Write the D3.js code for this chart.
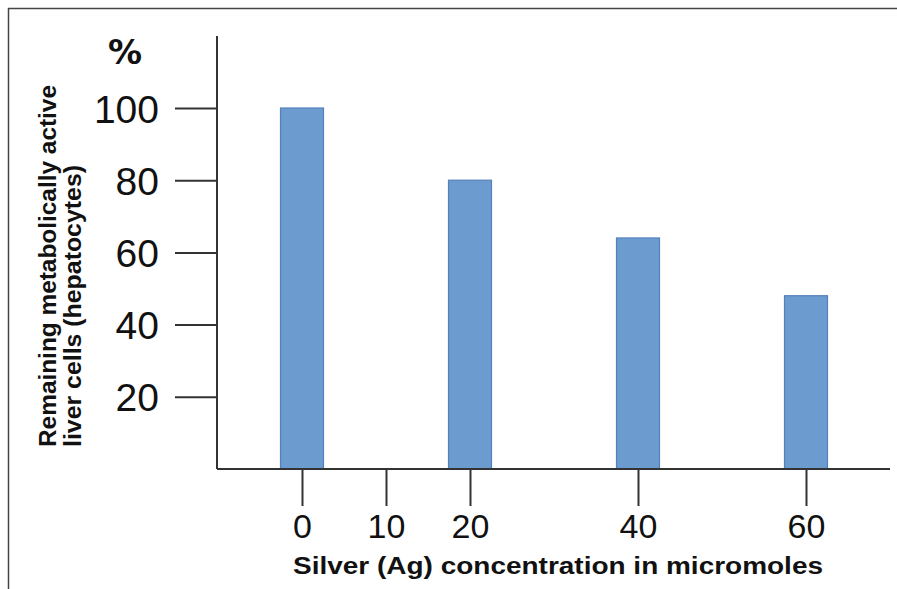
<!DOCTYPE html>
<html><head><meta charset="utf-8">
<script src="https://cdn.jsdelivr.net/npm/d3@7"></script>
<style>body{margin:0;background:#fff}svg{display:block}</style>
</head><body>
<script>
const concentrations = [0, 20, 40, 60];
const cellsPercent = [100, 80, 64, 48];
const xTicks = [0, 10, 20, 40, 60];
const yTicks = [20, 40, 60, 80, 100];
const xTitle = "Silver (Ag) concentration in micromoles";
const yTitle1 = "Remaining metabolically active";
const yTitle2 = "liver cells (hepatocytes)";
const yUnit = "%";

const W = 897, H = 589;
const svg = d3.select("body").append("svg").attr("width", W).attr("height", H);
svg.append("rect").attr("width", W).attr("height", H).attr("fill", "#fff");
// frame (top and left visible)
svg.append("path").attr("d", "M8.5,589 L8.5,8.5 L897,8.5").attr("fill","none").attr("stroke","#444").attr("stroke-width",1.5);

const x = d3.scaleLinear().domain([0, 60]).range([302, 806]);
const y = d3.scaleLinear().domain([0, 100]).range([469, 108]);
const axisColor = "#333";
const font = "'Liberation Sans', Arial, sans-serif";

// bars
svg.selectAll("rect.bar").data(concentrations).join("rect")
  .attr("class","bar")
  .attr("x", d => x(d) - 21.5)
  .attr("width", 43)
  .attr("y", (d,i) => y(cellsPercent[i]))
  .attr("height", (d,i) => y(0) - y(cellsPercent[i]))
  .attr("fill", "#6c9bd0")
  .attr("stroke", "#5580bb")
  .attr("stroke-width", 1.2);

// y axis
const yAxis = d3.axisLeft(y).tickValues(yTicks).tickSize(42).tickPadding(16).tickFormat(d3.format("d"));
const gy = svg.append("g").attr("transform","translate(217,0)").call(yAxis);
gy.select(".domain").remove();
gy.append("line").attr("x1",0).attr("x2",0).attr("y1",36).attr("y2",469).attr("stroke",axisColor).attr("stroke-width",2);
gy.selectAll(".tick line").attr("stroke",axisColor).attr("stroke-width",2);
gy.selectAll(".tick text").attr("fill","#111").style("font-family",font).style("font-size","39px").attr("dy","0.36em");

// x axis
const xAxis = d3.axisBottom(x).tickValues(xTicks).tickSize(37).tickPadding(8).tickFormat(d3.format("d"));
const gx = svg.append("g").attr("transform","translate(0,469)").call(xAxis);
gx.select(".domain").remove();
gx.append("line").attr("x1",217).attr("x2",890).attr("y1",0).attr("y2",0).attr("stroke",axisColor).attr("stroke-width",2);
gx.selectAll(".tick line").attr("stroke",axisColor).attr("stroke-width",2);
gx.selectAll(".tick text").attr("fill","#111").style("font-family",font).style("font-size","34px");

// titles
svg.append("text").attr("x",125).attr("y",64).attr("text-anchor","middle")
  .style("font-family","'DejaVu Sans', sans-serif").style("font-size","34px").style("font-weight","bold").attr("fill","#111").text(yUnit);

svg.append("text").attr("x",293).attr("y",574).attr("textLength",530).attr("lengthAdjust","spacingAndGlyphs")
  .style("font-family",font).style("font-size","23px").style("font-weight","bold").attr("fill","#111").text(xTitle);

const yt = svg.append("g").attr("transform","translate(0,447) rotate(-90)");
yt.append("text").attr("x",0).attr("y",56).attr("textLength",362).attr("lengthAdjust","spacingAndGlyphs")
  .style("font-family",font).style("font-size","24px").style("font-weight","bold").attr("fill","#111").text(yTitle1);
yt.append("text").attr("x",0).attr("y",81).attr("textLength",282).attr("lengthAdjust","spacingAndGlyphs")
  .style("font-family",font).style("font-size","24px").style("font-weight","bold").attr("fill","#111").text(yTitle2);
</script>
</body></html>
